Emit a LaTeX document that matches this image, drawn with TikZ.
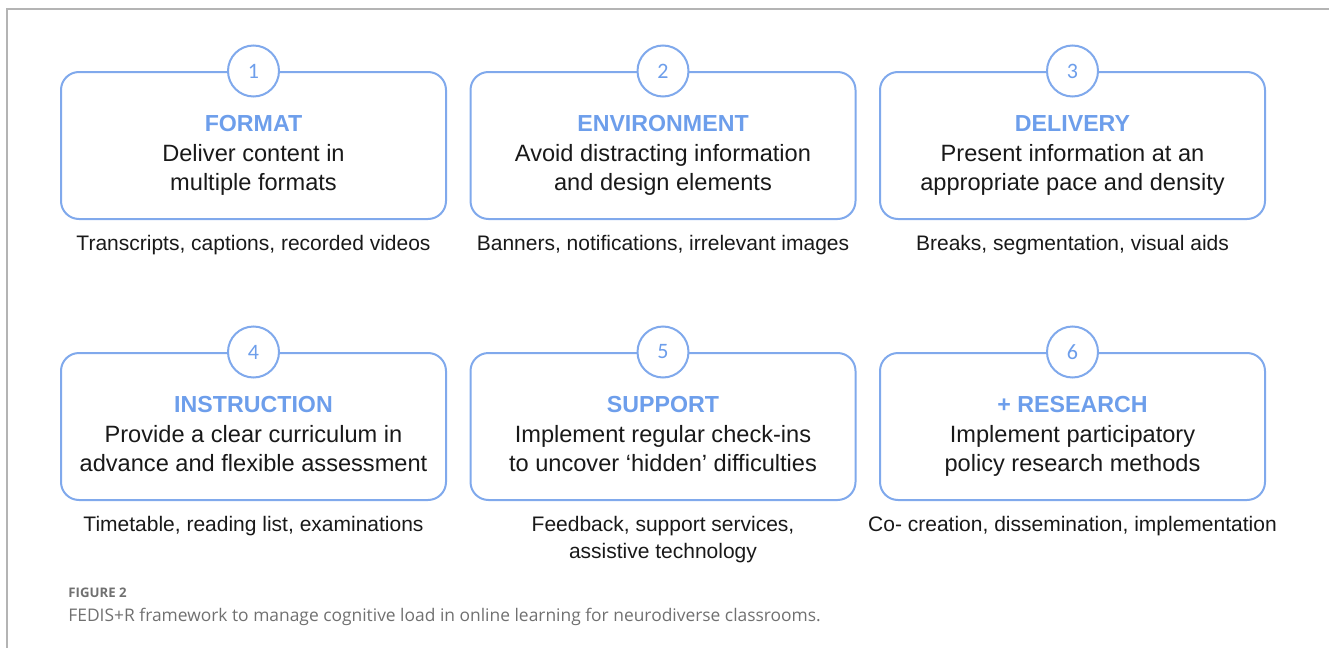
\documentclass[tikz,border=0pt]{standalone}
\usepackage{fontspec}
\setmainfont{Liberation Sans}
\newfontfamily\numfont{Carlito}
\newfontfamily\capfont{Open Sans}

\definecolor{fblue}{HTML}{6D9EEB}
\definecolor{fline}{HTML}{80A9EC}
\definecolor{framegray}{HTML}{B4B4B4}
\definecolor{capgray}{HTML}{707070}

% one panel: id, centre x, top y, number, heading, body line 1, body line 2, note
\newcommand\fpanel[8]{%
  \node[panelbox] (box#1) at (#2,#3+73.5) {};
  \node[numdisc] (num#1) at (box#1.north) {#4};
  \node[headtext] (head#1) at (#2,#3+59.5) {#5};
  \node[bodytext] (bodyA#1) at (#2,#3+89) {#6};
  \node[bodytext] (bodyB#1) at (#2,#3+118) {#7};
  \node[notetext] (noteA#1) at (#2,#3+178) {#8};
}

\begin{document}
\begin{tikzpicture}[x=0.5pt,y=-0.5pt,
  panelbox/.style={draw=fline, line width=1pt, rounded corners=9pt,
    minimum width=192.5pt, minimum height=73.5pt, inner sep=0pt},
  numdisc/.style={circle, draw=fline, line width=1pt, fill=white,
    minimum size=25.5pt, inner sep=0pt, text=fblue,
    font=\numfont\fontsize{11}{13}\selectfont},
  headtext/.style={anchor=base, inner sep=0pt, text=fblue,
    font=\bfseries\fontsize{11.6}{14}\selectfont},
  bodytext/.style={anchor=base, inner sep=0pt, text=black!90,
    font=\fontsize{11.8}{14}\selectfont},
  notetext/.style={anchor=base, inner sep=0pt, text=black!90,
    font=\fontsize{10.5}{13}\selectfont},
  captext/.style={anchor=base west, inner sep=0pt, text=capgray},
]
\useasboundingbox (0,0) rectangle (1329,648);

% page frame
\coordinate (frameBL) at (7,648);
\coordinate (frameTL) at (7,9);
\coordinate (frameTR) at (1329,9);
\draw[framegray, line width=0.9pt] (frameBL) -- (frameTL) -- (frameTR);

% top row
\fpanel{1}{253.5}{72}{1}{FORMAT}{Deliver content in}{multiple formats}
  {Transcripts, captions, recorded videos}
\fpanel{2}{663}{72}{2}{ENVIRONMENT}{Avoid distracting information}{and design elements}
  {Banners, notifications, irrelevant images}
\fpanel{3}{1072.5}{72}{3}{DELIVERY}{Present information at an}{appropriate pace and density}
  {Breaks, segmentation, visual aids}

% bottom row
\fpanel{4}{253.5}{353}{4}{INSTRUCTION}{Provide a clear curriculum in}{advance and flexible assessment}
  {Timetable, reading list, examinations}
\fpanel{5}{663}{353}{5}{SUPPORT}{Implement regular check-ins}{to uncover ‘hidden’ difficulties}
  {Feedback, support services,}
\node[notetext] (noteB5) at (663,353+205) {assistive technology};
\fpanel{6}{1072.5}{353}{6}{+ RESEARCH}{Implement participatory}{policy research methods}
  {Co- creation, dissemination, implementation}

% caption
\node[captext, font=\capfont\bfseries\fontsize{6.6}{8}\selectfont] (figlabel) at (68,597) {FIGURE 2};
\node[captext, font=\capfont\fontsize{8.7}{10}\selectfont] (figcaption) at (68,621)
  {FEDIS+R framework to manage cognitive load in online learning for neurodiverse classrooms.};
\end{tikzpicture}
\end{document}
